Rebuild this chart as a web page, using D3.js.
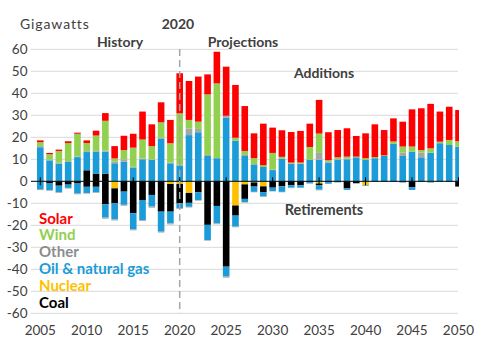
<!DOCTYPE html>
<html>
<head>
<meta charset="utf-8">
<script src="https://cdn.jsdelivr.net/npm/d3@7"></script>
<style>
  body { margin: 0; background: #fff; }
  svg { display: block; font-family: Lato, "Open Sans", sans-serif; }
</style>
</head>
<body>
<div id="chart"></div>
<script>
// Capacity additions (positive) and retirements (negative), gigawatts
const years = [2005, 2006, 2007, 2008, 2009, 2010, 2011, 2012, 2013, 2014, 2015, 2016, 2017, 2018, 2019, 2020,
  2021, 2022, 2023, 2024, 2025, 2026, 2027, 2028, 2029, 2030,
  2031, 2032, 2033, 2034, 2035, 2036, 2037, 2038, 2039, 2040,
  2041, 2042, 2043, 2044, 2045, 2046, 2047, 2048, 2049, 2050];

// additions
const coalAdd = [0, 0, 0, 0, 0, 5, 3.5, 3.5, 0, 0, 0, 0, 0, 0, 0, 0,
  0, 0, 0, 0, 0, 0, 0, 0, 0, 0,
  0, 0, 0, 0, 0, 0, 0, 0, 0, 0,
  0, 0, 0, 0, 0, 0, 0, 0, 0, 0];
const gasAdd = [15.5, 9.5, 8, 8.8, 11, 8.3, 10, 10, 8.2, 8.9, 6.3, 10, 9.7, 19.5, 8.2, 7.2,
  21, 22.3, 11.5, 10.5, 29, 18.5, 11.5, 7.7, 6.5, 5.1,
  10.3, 8, 8, 9.8, 9.8, 8.5, 9.7, 10, 10.9, 9.7,
  10.5, 11.5, 17, 11.5, 13.5, 10.9, 13, 17.3, 16.5, 15.8];
const otherAdd = [0.5, 0.3, 0.4, 0.4, 0.3, 0.4, 0.3, 0.5, 0.7, 1.1, 0.3, 0.3, 0.3, 0.3, 0.3, 0.3,
  3, 1.5, 0.5, 0, 0.8, 0, 0.5, 0, 0, 0.3,
  0, 0, 0, 0, 3.1, 0.3, 0.4, 0.4, 0, 0,
  0, 0, 0, 1.5, 0, 2.1, 0, 0, 0, 0];
const windAdd = [1.8, 2.5, 5.4, 8.2, 10.3, 3.7, 7, 13.5, 1.5, 4.2, 8.7, 8.7, 6, 7, 8.8, 23.4,
  3.9, 3.3, 27.5, 34, 0, 1.3, 1.8, 2.8, 0.8, 7.5,
  0.8, 0.5, 0.5, 5.8, 8.8, 0.8, 0.8, 0.8, 0.3, 0.8,
  0.5, 0.3, 1.1, 2.8, 2.3, 1.2, 2, 0.7, 2.3, 2.4];
const solarAdd = [0.8, 0.6, 0.6, 0.8, 0.5, 1.2, 2.2, 3.5, 5.6, 6.5, 6.3, 12.7, 9.9, 9.1, 10.6, 18.2,
  17.7, 20.5, 9.1, 14.4, 22.3, 24, 20.4, 11.3, 18.9, 11.5,
  12.1, 13.9, 14.4, 10.6, 15.3, 12.7, 12.4, 12.9, 9.4, 11.3,
  14.9, 11.5, 10.5, 11.3, 16.9, 19, 20.2, 13.7, 15.1, 14.2];

// retirements (drawn below zero)
const nuclearRet = [0, 0, 0, 0, 0, 0, 0, 0, 3.2, 0, 0, 0, 0, 0, 1.2, 1.2,
  5.3, 0, 0, 0, 0, 11, 1.4, 0.5, 2.3, 0,
  0, 0, 0, 0, 1, 0, 0, 0, 0, 1.7,
  0, 0, 0, 0, 0, 0, 0.5, 0, 0, 0];
const coalRet = [0, 1, 2, 1.5, 1, 2.5, 2.5, 10.5, 6.8, 4.7, 14.5, 8.5, 6.2, 13.8, 12.6, 8.8,
  4.5, 5, 19.8, 11.2, 38.8, 4.6, 6.6, 1.9, 2.6, 2.9,
  2.3, 1.8, 1.8, 0.5, 0.8, 0.5, 0.2, 3.2, 0.9, 0,
  0, 0, 0, 0, 2.7, 0, 0, 0, 0, 2.4];
const gasRet = [3.5, 3, 3, 1.5, 4.6, 2.8, 2.5, 6, 7.3, 6, 7.3, 9.1, 5.3, 9.1, 5.3, 2.3,
  1.8, 3.5, 6.9, 7.9, 4.5, 5, 1.5, 2.4, 2, 1.5,
  2.5, 1.1, 1.1, 0.5, 2, 0.6, 0.3, 0.7, 0, 0.3,
  0.3, 0.3, 0.3, 0.5, 1.2, 0.3, 0.2, 0.2, 0.3, 0];
const otherRet = [0.5, 0.3, 0.3, 0.3, 0.3, 0.3, 0.3, 0.5, 0.5, 0.4, 0.5, 0.4, 0.5, 0.4, 0.5, 0.3,
  0.3, 0.3, 0.3, 0.4, 0.5, 0.3, 0.2, 0.2, 0.2, 0.2,
  0.2, 0.2, 0.1, 0, 0.3, 0, 0, 0, 0, 0,
  0, 0, 0, 0.3, 0, 0, 0, 0, 0, 0];

const yTicks = [60, 50, 40, 30, 20, 10, 0, -10, -20, -30, -40, -50, -60];
const xTickYears = [2005, 2010, 2015, 2020, 2025, 2030, 2035, 2040, 2045, 2050];

const legendNames = ["Solar", "Wind", "Other", "Oil & natural gas", "Nuclear", "Coal"];

const colors = {
  coal: "#000000",
  gas: "#1b9bd8",
  other: "#a6a6a6",
  wind: "#92d050",
  solar: "#ff0000",
  nuclear: "#ffc000"
};
const legendColors = ["#ff0000", "#92d050", "#8c8c8c", "#1b9bd8", "#ffc000", "#000000"];

// build table rows
const rows = years.map((yr, i) => ({
  year: yr,
  coal: coalAdd[i], gas: gasAdd[i], other: otherAdd[i], wind: windAdd[i], solar: solarAdd[i],
  rNuclear: nuclearRet[i], rCoal: coalRet[i], rGas: gasRet[i], rOther: otherRet[i]
}));

const W = 496, H = 350;
const plotLeft = 31, plotRight = 459, plotTop = 49.3, plotBottom = 313.3;

const svg = d3.select("#chart").append("svg")
  .attr("width", W).attr("height", H);

const x = d3.scaleLinear().domain([2004, 2050]).range([plotLeft, plotRight - 0.5]);
const y = d3.scaleLinear().domain([-60, 60]).range([plotBottom, plotTop]);
const barW = 6.6;

// gridlines
svg.append("g")
  .selectAll("line")
  .data(yTicks.filter(d => d !== 0))
  .join("line")
  .attr("x1", plotLeft).attr("x2", plotRight - 1)
  .attr("y1", d => y(d)).attr("y2", d => y(d))
  .attr("stroke", "#d9d9d9").attr("stroke-width", 1);

// y labels
svg.append("g")
  .selectAll("text")
  .data(yTicks)
  .join("text")
  .attr("x", 27.5)
  .attr("y", d => y(d))
  .attr("dy", "0.36em")
  .attr("text-anchor", "end")
  .style("font-size", "13.5px")
  .style("fill", "#404040")
  .text(d => d);

// x labels
svg.append("g")
  .selectAll("text")
  .data(xTickYears)
  .join("text")
  .attr("x", d => x(d))
  .attr("y", 335)
  .attr("text-anchor", "middle")
  .style("font-size", "13.5px")
  .style("fill", "#404040")
  .text(d => d);

svg.append("clipPath").attr("id", "plotClip")
  .append("rect").attr("x", plotLeft).attr("y", 0).attr("width", plotRight - plotLeft).attr("height", H);

const plot = svg.append("g").attr("clip-path", "url(#plotClip)");

// positive stack
const posKeys = ["coal", "gas", "other", "wind", "solar"];
const posStack = d3.stack().keys(posKeys)(rows);

plot.append("g")
  .selectAll("g")
  .data(posStack)
  .join("g")
  .attr("fill", d => colors[d.key])
  .selectAll("rect")
  .data(d => d)
  .join("rect")
  .attr("x", d => x(d.data.year) - barW / 2)
  .attr("width", barW)
  .attr("y", d => y(d[1]))
  .attr("height", d => Math.max(0, y(d[0]) - y(d[1])));

// negative stack (nuclear closest to zero)
const negKeys = ["rNuclear", "rCoal", "rGas", "rOther"];
const negColor = { rNuclear: colors.nuclear, rCoal: colors.coal, rGas: colors.gas, rOther: colors.other };
const negStack = d3.stack().keys(negKeys)(rows);

plot.append("g")
  .selectAll("g")
  .data(negStack)
  .join("g")
  .attr("fill", d => negColor[d.key])
  .selectAll("rect")
  .data(d => d)
  .join("rect")
  .attr("x", d => x(d.data.year) - barW / 2)
  .attr("width", barW)
  .attr("y", d => y(-d[0]))
  .attr("height", d => Math.max(0, y(-d[1]) - y(-d[0])));

// zero axis with ticks every 5 years
svg.append("line")
  .attr("x1", plotLeft).attr("x2", plotRight)
  .attr("y1", y(0)).attr("y2", y(0))
  .attr("stroke", "#000").attr("stroke-width", 1);

svg.append("g")
  .selectAll("line")
  .data(xTickYears)
  .join("line")
  .attr("x1", d => x(d)).attr("x2", d => x(d))
  .attr("y1", y(0) - 4).attr("y2", y(0) + 4)
  .attr("stroke", "#000").attr("stroke-width", 1);

// 2020 divider
svg.append("line")
  .attr("x1", x(2020)).attr("x2", x(2020))
  .attr("y1", 49).attr("y2", plotBottom)
  .attr("stroke", "#a6a6a6")
  .attr("stroke-width", 1.5)
  .attr("stroke-dasharray", "7,4");

// annotations
svg.append("text").attr("x", 20).attr("y", 29)
  .style("font-size", "14px").style("fill", "#404040")
  .style("letter-spacing", "0.9px")
  .text("Gigawatts");

const bold = [
  { t: "2020", x: 178, y: 29 },
  { t: "History", x: 120, y: 47 },
  { t: "Projections", x: 243, y: 47 },
  { t: "Additions", x: 324, y: 78 },
  { t: "Retirements", x: 324, y: 215 }
];
svg.append("g")
  .selectAll("text")
  .data(bold)
  .join("text")
  .attr("x", d => d.x).attr("y", d => d.y)
  .attr("text-anchor", "middle")
  .style("font-size", d => d.t === "Retirements" ? "14.5px" : "14px")
  .style("font-weight", "bold")
  .style("fill", "#404040")
  .text(d => d.t);

// legend
svg.append("g")
  .selectAll("text")
  .data(legendNames)
  .join("text")
  .attr("x", 39)
  .attr("y", (d, i) => 223.5 + i * 16.8)
  .style("font-size", "15px")
  .style("font-weight", "bold")
  .style("fill", (d, i) => legendColors[i])
  .text(d => d);
</script>
</body>
</html>
